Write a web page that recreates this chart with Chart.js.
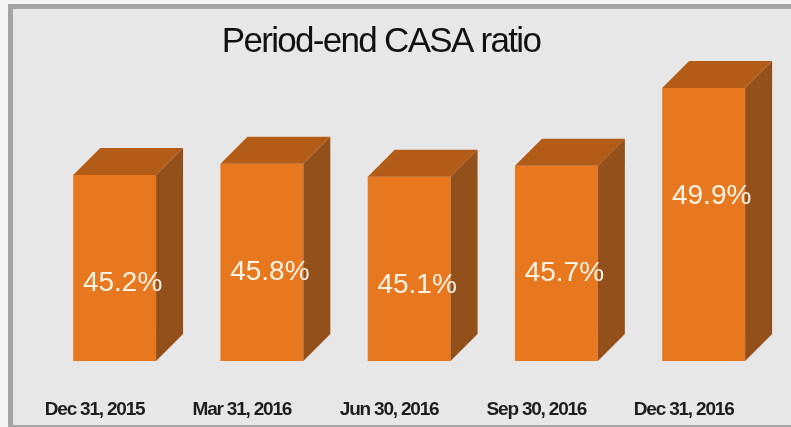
<!DOCTYPE html>
<html lang="en">
<head>
    <meta charset="UTF-8">
    <title>Period-end CASA ratio</title>
    <script src="https://cdn.jsdelivr.net/npm/chart.js"></script>
    <style>
        body { margin: 0; background: #f3f3f3; }
        #wrap { width: 791px; height: 427px; }
    </style>
</head>
<body>
    <div id="wrap"><canvas id="casaChart" width="791" height="427"></canvas></div>

    <script>
        // data
        const periods = ['Dec 31, 2015', 'Mar 31, 2016', 'Jun 30, 2016', 'Sep 30, 2016', 'Dec 31, 2016'];
        const casaRatio = [45.2, 45.8, 45.1, 45.7, 49.9];
        const titleText = 'Period-end CASA ratio';

        const frontColor = '#e8781f';
        const topColor = '#b35c18';
        const sideColor = '#94501a';
        const depth = 27;
        const fontFamily = '"Liberation Sans", Arial, sans-serif';

        // frame, title, 3d faces and value labels
        const boxPlugin = {
            id: 'box3d',
            beforeDraw(chart) {
                const c = chart.ctx;
                c.save();
                c.fillStyle = '#f3f3f3';
                c.fillRect(0, 0, chart.width, chart.height);
                c.fillStyle = '#a4a4a4';
                c.fillRect(8, 4, chart.width - 8, chart.height - 4);
                c.fillStyle = '#e7e7e7';
                c.fillRect(13, 9, chart.width - 13, chart.height - 9 - 2);
                c.fillStyle = '#111';
                c.font = '35px ' + fontFamily;
                c.letterSpacing = '-1.7px';
                c.textAlign = 'center';
                c.textBaseline = 'alphabetic';
                c.fillText(titleText, 381, 52);
                c.restore();
                // narrow look for the category labels drawn by the axis
                c.letterSpacing = '-1.2px';
            },
            afterDatasetsDraw(chart) {
                const c = chart.ctx;
                const meta = chart.getDatasetMeta(0);
                const floor = chart.chartArea.bottom;
                c.save();
                meta.data.forEach((bar, i) => {
                    const half = bar.width / 2;
                    const x0 = bar.x - half, x1 = bar.x + half;
                    const top = bar.y, bottom = Math.min(bar.base, floor);
                    // top face
                    c.fillStyle = topColor;
                    c.beginPath();
                    c.moveTo(x0, top);
                    c.lineTo(x1, top);
                    c.lineTo(x1 + depth, top - depth);
                    c.lineTo(x0 + depth, top - depth);
                    c.closePath();
                    c.fill();
                    // side face
                    c.fillStyle = sideColor;
                    c.beginPath();
                    c.moveTo(x1, top);
                    c.lineTo(x1 + depth, top - depth);
                    c.lineTo(x1 + depth, bottom - depth);
                    c.lineTo(x1, bottom);
                    c.closePath();
                    c.fill();
                    // value label
                    c.fillStyle = '#fdf3e4';
                    c.letterSpacing = '0px';
                    c.font = '28px ' + fontFamily;
                    c.textAlign = 'center';
                    c.textBaseline = 'middle';
                    c.fillText(casaRatio[i].toFixed(1) + '%', bar.x + 8, top + 108);
                });
                c.restore();
            }
        };

        new Chart(document.getElementById('casaChart'), {
            type: 'bar',
            data: {
                labels: periods,
                datasets: [{
                    data: casaRatio,
                    backgroundColor: frontColor,
                    borderWidth: 0,
                    barPercentage: 0.563,
                    categoryPercentage: 1
                }]
            },
            options: {
                responsive: false,
                animation: false,
                layout: { padding: { top: 65, left: 41, right: 13, bottom: 0 } },
                plugins: {
                    legend: { display: false },
                    tooltip: { enabled: false }
                },
                scales: {
                    y: { display: false, min: 35.15, max: 51.14 },
                    x: {
                        grid: { display: false },
                        border: { display: false },
                        ticks: {
                            color: '#1e1e1e',
                            padding: 29,
                            labelOffset: -20,
                            font: { family: fontFamily, size: 19, weight: 'bold' }
                        },
                        afterFit(scale) { scale.height = 66; }
                    }
                }
            },
            plugins: [boxPlugin]
        });
    </script>
</body>
</html>
